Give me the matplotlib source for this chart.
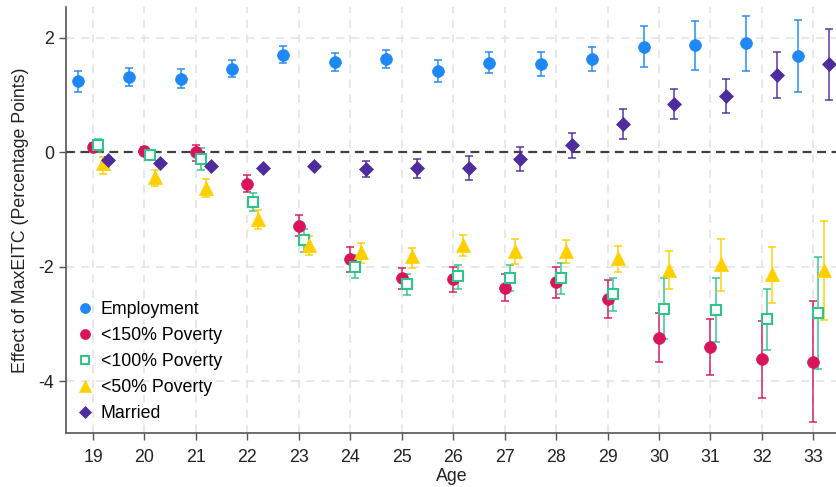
import matplotlib
matplotlib.use("Agg")
import matplotlib.pyplot as plt
import numpy as np

plt.rcParams['font.family'] = ['Liberation Sans', 'DejaVu Sans']

ages = [19, 20, 21, 22, 23, 24, 25, 26, 27, 28, 29, 30, 31, 32, 33]

# point estimates and 95% CI bounds, by age
emp = [1.25, 1.31, 1.29, 1.46, 1.70, 1.58, 1.63, 1.42, 1.57, 1.54, 1.63, 1.84, 1.88, 1.91, 1.68]
emp_lo = [1.06, 1.16, 1.13, 1.31, 1.56, 1.43, 1.48, 1.23, 1.38, 1.33, 1.43, 1.49, 1.44, 1.43, 1.06]
emp_hi = [1.43, 1.47, 1.46, 1.62, 1.85, 1.74, 1.78, 1.61, 1.76, 1.75, 1.84, 2.20, 2.30, 2.38, 2.31]

pov150 = [0.10, 0.03, 0.00, -0.55, -1.28, -1.87, -2.20, -2.22, -2.37, -2.27, -2.56, -3.24, -3.40, -3.62, -3.66]
pov150_lo = [0.04, -0.03, -0.15, -0.70, -1.46, -2.10, -2.39, -2.44, -2.60, -2.55, -2.89, -3.67, -3.89, -4.30, -4.72]
pov150_hi = [0.16, 0.09, 0.12, -0.40, -1.10, -1.66, -2.02, -2.00, -2.12, -2.00, -2.23, -2.81, -2.91, -2.94, -2.60]

pov100 = [0.12, -0.05, -0.12, -0.87, -1.53, -2.00, -2.30, -2.16, -2.19, -2.20, -2.48, -2.73, -2.75, -2.92, -2.80]
pov100_lo = [0.01, -0.12, -0.31, -1.03, -1.74, -2.20, -2.49, -2.38, -2.42, -2.48, -2.77, -3.27, -3.31, -3.46, -3.78]
pov100_hi = [0.23, 0.02, 0.08, -0.71, -1.34, -1.80, -2.12, -1.97, -1.97, -1.94, -2.19, -2.19, -2.19, -2.39, -1.83]

pov50 = [-0.19, -0.43, -0.63, -1.17, -1.62, -1.75, -1.82, -1.62, -1.72, -1.73, -1.84, -2.05, -1.96, -2.12, -2.05]
pov50_lo = [-0.37, -0.59, -0.78, -1.34, -1.80, -1.94, -2.02, -1.82, -1.96, -1.94, -2.09, -2.38, -2.42, -2.63, -2.93]
pov50_hi = [-0.08, -0.31, -0.47, -1.01, -1.46, -1.59, -1.68, -1.45, -1.52, -1.53, -1.63, -1.73, -1.52, -1.65, -1.20]

married = [-0.13, -0.19, -0.24, -0.28, -0.24, -0.29, -0.28, -0.28, -0.12, 0.12, 0.49, 0.84, 0.98, 1.35, 1.54]
married_lo = [-0.17, -0.23, -0.28, -0.32, -0.28, -0.43, -0.44, -0.49, -0.32, -0.10, 0.24, 0.58, 0.69, 0.95, 0.91]
married_hi = [-0.09, -0.15, -0.20, -0.24, -0.20, -0.15, -0.11, -0.06, 0.09, 0.34, 0.76, 1.11, 1.28, 1.76, 2.16]

series = [
    ("Employment", emp, emp_lo, emp_hi, -0.3, "#1e88f5", "o", True, 8.5),
    ("<150% Poverty", pov150, pov150_lo, pov150_hi, 0.0, "#d8155a", "o", True, 8.5),
    ("<100% Poverty", pov100, pov100_lo, pov100_hi, 0.1, "#2ec48a", "s", False, 7.5),
    ("<50% Poverty", pov50, pov50_lo, pov50_hi, 0.2, "#ffd000", "^", True, 9.5),
    ("Married", married, married_lo, married_hi, 0.3, "#4f2c9e", "D", True, 7.5),
]

fig = plt.figure(figsize=(8.37, 4.87), dpi=100)
ax = fig.add_axes([0.0792, 0.1115, 1.0 - 0.0792, 0.9856 - 0.1115])

ax.set_xlim(18.48, 33.46)
ax.set_ylim(-4.90, 2.54)

# light dashed grid
for a in ages:
    ax.axvline(a, color="#e4e4e4", lw=1.2, ls=(0, (5, 4)), zorder=0)
for yv in [2, -2, -4]:
    ax.axhline(yv, color="#e4e4e4", lw=1.2, ls=(0, (5, 4)), zorder=0)
ax.axhline(0, color="#404040", lw=1.6, ls=(0, (4, 2.5)), zorder=1)

x = np.array(ages, dtype=float)
handles = []
for name, est, lo, hi, off, col, mk, filled, msize in series:
    est = np.array(est); lo = np.array(lo); hi = np.array(hi)
    yerr = [est - lo, hi - est]
    ax.errorbar(x + off, est, yerr=yerr, fmt="none", ecolor=col, elinewidth=1.3,
                capsize=3, capthick=1.3, alpha=0.8, zorder=2)
    h, = ax.plot(x + off, est, ls="none", marker=mk, markersize=msize,
                 markerfacecolor=col if filled else "white",
                 markeredgecolor=col, markeredgewidth=1.5 if not filled else 0.5,
                 label=name, zorder=3)
    handles.append(h)

ax.spines["top"].set_visible(False)
ax.spines["right"].set_visible(False)
ax.spines["left"].set_color("#555555")
ax.spines["bottom"].set_color("#555555")
ax.spines["left"].set_linewidth(1.2)
ax.spines["bottom"].set_linewidth(1.2)

ax.set_xticks(ages)
ax.set_xticklabels([str(a) for a in ages])
ax.set_yticks([2, 0, -2, -4])
ax.set_yticklabels(["2", "0", "-2", "-4"])
ax.tick_params(axis="both", labelsize=12.8, length=5, width=1, direction="out",
               colors="#555555", labelcolor="#222222")
ax.tick_params(axis="x", pad=7)
ax.tick_params(axis="y", pad=3.5)

ax.set_xlabel("Age", fontsize=12.8, color="#222222", labelpad=1.5)
ax.set_ylabel("Effect of MaxEITC (Percentage Points)", fontsize=12.8, color="#222222", labelpad=7)

leg = ax.legend(handles=handles, loc="lower left", bbox_to_anchor=(0.0, -0.004),
                frameon=False, fontsize=12.8, handlelength=0.75, handletextpad=0.5,
                labelspacing=0.5, borderaxespad=0.3, markerscale=0.85)

fig.savefig("out.png", dpi=100)
